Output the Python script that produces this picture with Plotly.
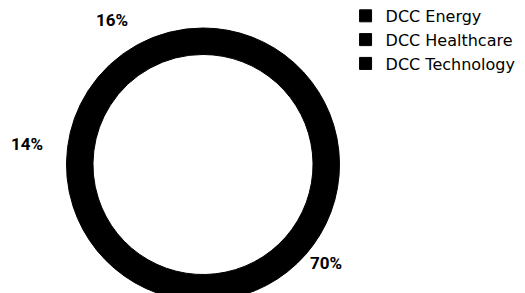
import math
import plotly.graph_objects as go

labels = ["DCC Energy", "DCC Healthcare", "DCC Technology"]
values = [70, 14, 16]
colors = ["#000000", "#000000", "#000000"]

W, H = 525, 293
CX, CY = 195.0, 156.5      # ring centre (px from left / top)
R = 136.5                   # outer radius px
LABEL_CX, LABEL_CY = 184.0, 157.0   # centre used for placing percent labels
LABEL_R = 166.0             # radius at which percent labels sit

fig = go.Figure(
    go.Pie(
        labels=labels,
        values=values,
        hole=0.806,
        sort=False,
        direction="clockwise",
        rotation=0,
        marker=dict(colors=colors, line=dict(color="#000000", width=1)),
        textinfo="none",
        hoverinfo="label+percent",
        domain=dict(x=[(CX - R) / W, (CX + R) / W], y=[0, (2 * R) / H]),
        showlegend=True,
    )
)

# percent labels placed outside, at the middle angle of each slice
total = sum(values)
cum = 0.0
annotations = []
for v in values:
    mid = (cum + v / 2) / total
    cum += v
    theta = 2 * math.pi * mid  # clockwise from 12 o'clock
    px = LABEL_CX + LABEL_R * math.sin(theta)
    py = LABEL_CY - LABEL_R * math.cos(theta)
    annotations.append(dict(
        x=px / W, y=1 - py / H, xref="paper", yref="paper",
        text=f"{round(100 * v / total)}%", showarrow=False,
        xanchor="center", yanchor="middle",
        font=dict(family="Roboto, sans-serif", size=17, color="#000000", weight="bold"),
    ))

fig.update_layout(
    width=W,
    height=H,
    margin=dict(l=0, r=0, t=0, b=0, autoexpand=False),
    paper_bgcolor="white",
    plot_bgcolor="white",
    font=dict(family="DejaVu Sans, sans-serif", size=16, color="#000000"),
    annotations=annotations,
    legend=dict(
        x=0.643, y=1.031, xref="paper", yref="paper",
        xanchor="left", yanchor="top",
        font=dict(family="DejaVu Sans, sans-serif", size=16, color="#000000"),
        tracegroupgap=0,
        bgcolor="rgba(0,0,0,0)",
    ),
)

fig.write_html("out.html")
